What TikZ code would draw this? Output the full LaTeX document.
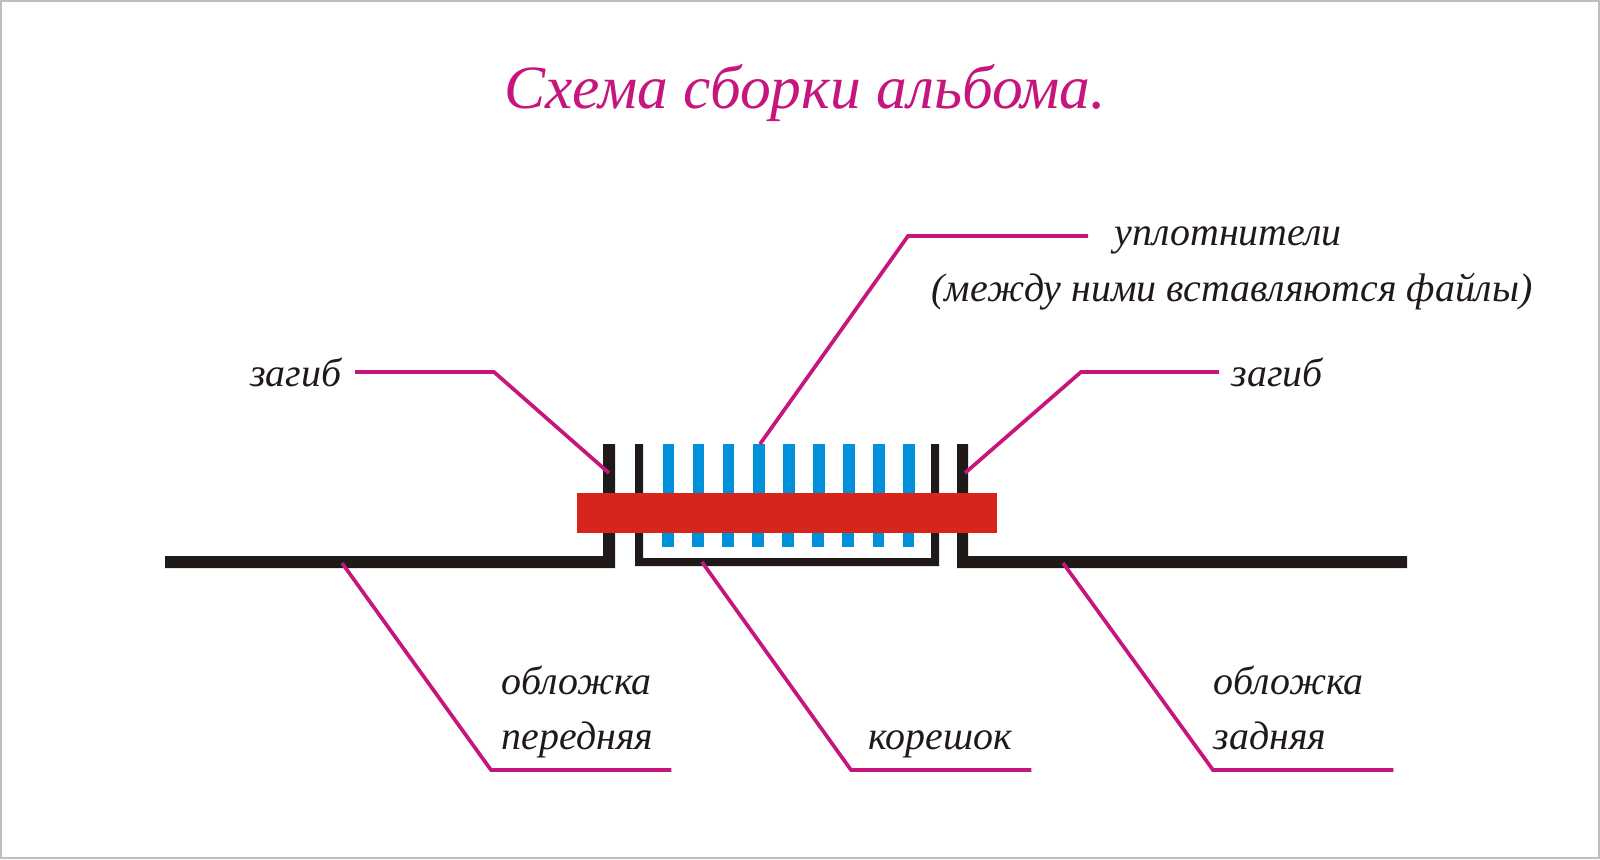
\documentclass[tikz,border=0pt]{standalone}
\usepackage{fontspec}
\setmainfont{Liberation Serif}
\usepackage{tikz}
\usetikzlibrary{positioning}
\definecolor{frame}{RGB}{190, 190, 190}
\definecolor{ink}{RGB}{31, 26, 23}
\definecolor{pointer}{RGB}{198, 21, 125}
\definecolor{seal}{RGB}{0, 145, 218}
\definecolor{clamp}{RGB}{216, 37, 28}
\tikzset{
  title/.style={text=pointer, font=\itshape\fontsize{17.5}{21}\selectfont},
  label/.style={text=ink, font=\itshape\fontsize{11.35}{15.6}\selectfont, inner ysep=0},
  shelf/.style={label, anchor=south west, align=left, inner ysep=0.035cm},
  leader/.style={draw=pointer, line width=0.037cm}
}

\begin{document}
\begin{tikzpicture}[scale=1.0]

  \useasboundingbox (0, 0) rectangle (16, 8.59);
  \fill[white] (0, 0) rectangle (16, 8.59);
  \draw[frame, line width=0.02cm] (0.01, 0.01) rectangle (15.99, 8.58);

  \node[title] (heading) at (8.05, 7.66) { Схема сборки альбома. };

  % covers and spine
  \fill[ink] (1.65, 2.91) -- (6.15, 2.91) -- (6.15, 4.15) -- (6.03, 4.15)
          -- (6.03, 3.03) -- (1.65, 3.03) -- cycle;
  \fill[ink] (14.07, 2.91) -- (9.57, 2.91) -- (9.57, 4.15) -- (9.68, 4.15)
          -- (9.68, 3.03) -- (14.07, 3.03) -- cycle;
  \fill[ink] (6.35, 4.15) -- (6.35, 2.93) -- (9.39, 2.93) -- (9.39, 4.15)
          -- (9.31, 4.15) -- (9.31, 3.01) -- (6.43, 3.01) -- (6.43, 4.15) -- cycle;

  % seals
  \foreach \n in {0, 1, ..., 8} {
    \pgfmathsetmacro{\eta}{6.685 + 0.3007 * \n}
    \fill[seal] (\eta - 0.058, 3.66) rectangle (\eta + 0.058, 4.15);
    \fill[seal] (\eta - 0.065, 3.12) rectangle (\eta + 0.051, 3.26);
  }

  \fill[clamp] (5.77, 3.26) rectangle (9.97, 3.66);

  % upper labels
  \coordinate (tipbendl) at (6.09, 3.86);
  \coordinate (elbowbendl) at (4.94, 4.87);
  \node[label, anchor=east, inner xsep=0.13cm] (bendl) at (3.55, 4.87) { загиб };
  \draw[leader] (bendl.east) -- (elbowbendl) -- (tipbendl);

  \coordinate (tipbendr) at (9.65, 3.86);
  \coordinate (elbowbendr) at (10.81, 4.87);
  \node[label, anchor=west, inner xsep=0.12cm] (bendr) at (12.19, 4.87) { загиб };
  \draw[leader] (bendr.west) -- (elbowbendr) -- (tipbendr);

  \coordinate (tipseal) at (7.60, 4.15);
  \coordinate (elbowseal) at (9.08, 6.23);
  \node[label, anchor=west, inner xsep=0.26cm, text depth=0pt] (sealtext) at (10.88, 6.23) { уплотнители };
  \node[label, below=0.26cm of sealtext, xshift=0.04cm] (sealnote) { (между ними вставляются файлы) };
  \draw[leader] (sealtext.west) -- (elbowseal) -- (tipseal);

  % lower labels
  \coordinate (tipfront) at (3.42, 2.96);
  \node[shelf, text width=1.59cm, inner xsep=0.10cm] (front) at (4.91, 0.89) { обложка\\передняя\strut };
  \draw[leader] (front.south east) -- (front.south west) -- (tipfront);

  \coordinate (tipspine) at (7.02, 2.97);
  \node[shelf, text width=1.45cm, inner xsep=0.17cm] (spine) at (8.51, 0.89) { корешок\strut };
  \draw[leader] (spine.south east) -- (spine.south west) -- (tipspine);

  \coordinate (tipback) at (10.63, 2.96);
  \node[shelf, text width=1.79cm, inner xsep=0cm] (back) at (12.13, 0.89) { обложка\\задняя\strut };
  \draw[leader] (back.south east) -- (back.south west) -- (tipback);

\end{tikzpicture}
\end{document}
